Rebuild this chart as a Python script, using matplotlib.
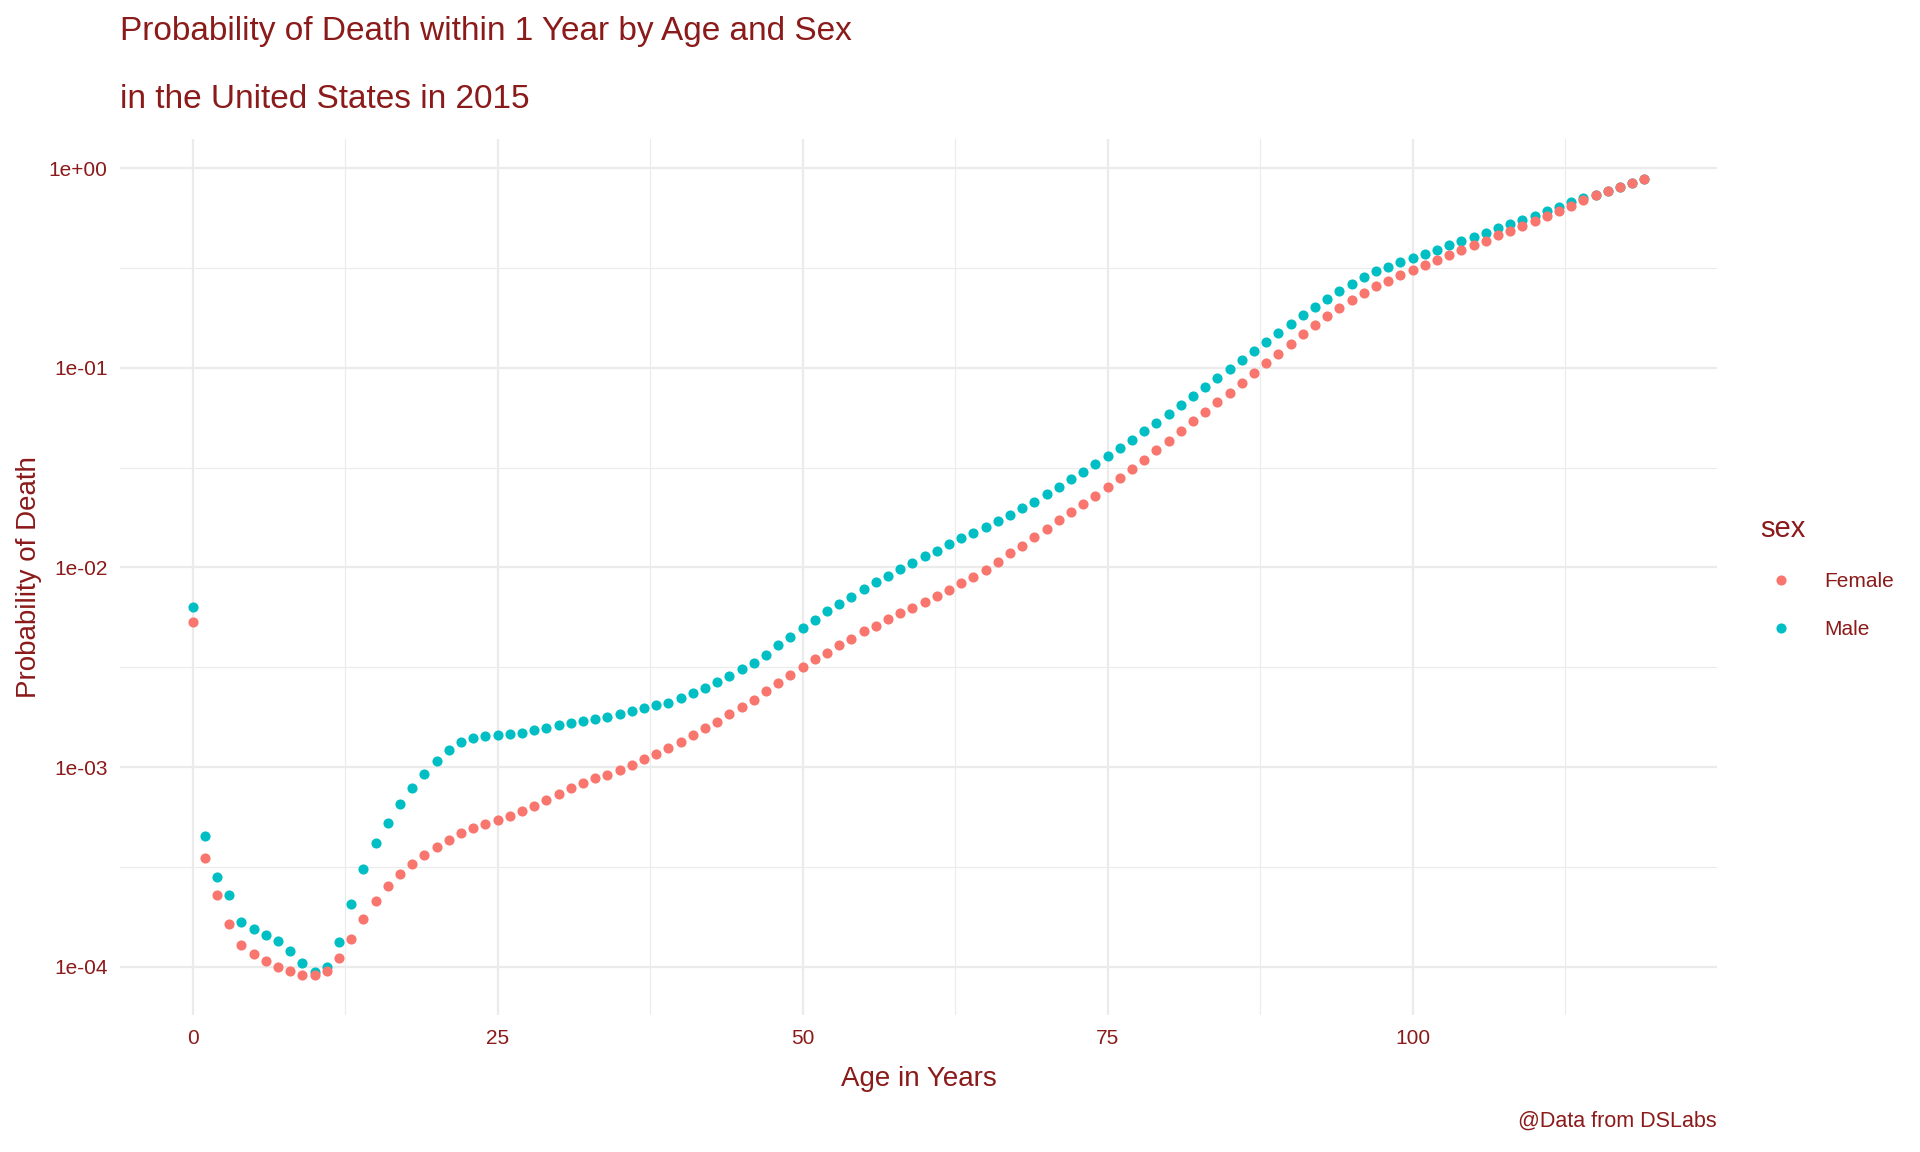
import matplotlib
matplotlib.use('Agg')
import matplotlib.pyplot as plt
from matplotlib.ticker import FixedLocator, FuncFormatter, NullFormatter
from matplotlib.lines import Line2D

FONT = ['Liberation Sans Narrow', 'Liberation Sans', 'DejaVu Sans']
TXT = '#8B1A1A'
GRID = '#EBEBEB'
C_FEMALE = '#F8766D'
C_MALE = '#00BFC4'

ages = list(range(120))

female = [5.31e-3, 3.51e-4, 2.29e-4, 1.635e-4, 1.284e-4, 1.157e-4, 1.068e-4, 1.004e-4, 9.52e-5, 9.09e-5,
          9.09e-5, 9.55e-5, 1.109e-4, 1.375e-4, 1.732e-4, 2.138e-4, 2.54e-4, 2.917e-4, 3.26e-4, 3.63e-4,
          3.98e-4, 4.32e-4, 4.68e-4, 4.95e-4, 5.17e-4, 5.43e-4, 5.69e-4, 6.05e-4, 6.38e-4, 6.87e-4,
          7.30e-4, 7.83e-4, 8.32e-4, 8.81e-4, 9.19e-4, 9.66e-4, 1.023e-3, 1.093e-3, 1.161e-3, 1.245e-3,
          1.334e-3, 1.445e-3, 1.567e-3, 1.692e-3, 1.84e-3, 1.995e-3, 2.18e-3, 2.399e-3, 2.63e-3, 2.884e-3,
          3.162e-3, 3.467e-3, 3.746e-3, 4.07e-3, 4.40e-3, 4.786e-3, 5.11e-3, 5.54e-3, 5.89e-3, 6.24e-3,
          6.68e-3, 7.16e-3, 7.70e-3, 8.37e-3, 8.96e-3, 9.72e-3, 1.061e-2, 1.175e-2, 1.283e-2, 1.413e-2,
          1.566e-2, 1.738e-2, 1.905e-2, 2.089e-2, 2.29e-2, 2.53e-2, 2.805e-2, 3.11e-2, 3.464e-2, 3.857e-2,
          4.31e-2, 4.835e-2, 5.425e-2, 6.02e-2, 6.75e-2, 7.49e-2, 8.40e-2, 9.42e-2, 0.1057, 0.1172,
          0.1315, 0.1474, 0.1633, 0.1815, 0.1988, 0.2178, 0.2360, 0.2560, 0.2707, 0.2907,
          0.3080, 0.3265, 0.3459, 0.3652, 0.3878, 0.4098, 0.4335, 0.4600, 0.4855, 0.5146,
          0.5454, 0.5780, 0.6104, 0.6471, 0.6887, 0.7301, 0.7705, 0.8078, 0.8460, 0.8831]

male = [6.31e-3, 4.50e-4, 2.81e-4, 2.29e-4, 1.68e-4, 1.543e-4, 1.44e-4, 1.349e-4, 1.202e-4, 1.047e-4,
        9.38e-5, 9.93e-5, 1.334e-4, 2.065e-4, 3.08e-4, 4.155e-4, 5.23e-4, 6.51e-4, 7.83e-4, 9.23e-4,
        1.068e-3, 1.216e-3, 1.334e-3, 1.396e-3, 1.429e-3, 1.445e-3, 1.462e-3, 1.491e-3, 1.531e-3, 1.567e-3,
        1.622e-3, 1.66e-3, 1.698e-3, 1.738e-3, 1.778e-3, 1.84e-3, 1.905e-3, 1.972e-3, 2.042e-3, 2.106e-3,
        2.213e-3, 2.344e-3, 2.483e-3, 2.661e-3, 2.851e-3, 3.09e-3, 3.338e-3, 3.66e-3, 4.07e-3, 4.467e-3,
        4.955e-3, 5.476e-3, 6.026e-3, 6.53e-3, 7.08e-3, 7.76e-3, 8.41e-3, 9.02e-3, 9.77e-3, 1.047e-2,
        1.135e-2, 1.216e-2, 1.308e-2, 1.404e-2, 1.488e-2, 1.594e-2, 1.708e-2, 1.84e-2, 1.995e-2, 2.138e-2,
        2.344e-2, 2.54e-2, 2.786e-2, 3.02e-2, 3.31e-2, 3.63e-2, 3.98e-2, 4.36e-2, 4.82e-2, 5.30e-2,
        5.88e-2, 6.50e-2, 7.21e-2, 7.99e-2, 8.90e-2, 9.87e-2, 0.1094, 0.1214, 0.1346, 0.1493,
        0.1656, 0.1837, 0.2019, 0.2210, 0.2415, 0.2620, 0.2840, 0.3046, 0.3189, 0.3373,
        0.3537, 0.3694, 0.3892, 0.4108, 0.4318, 0.4522, 0.4737, 0.5011, 0.5246, 0.5516,
        0.5780, 0.6104, 0.6395, 0.6755, 0.7105, 0.7301, 0.7705, 0.8078, 0.8460, 0.8831]

x_major = [0, 25, 50, 75, 100]
x_minor = [12.5, 37.5, 62.5, 87.5, 112.5]
y_major = [1e-4, 1e-3, 1e-2, 1e-1, 1e0]
y_minor = [10 ** -3.5, 10 ** -2.5, 10 ** -1.5, 10 ** -0.5]

MS = 7.3

fig = plt.figure(figsize=(19.2, 11.52), dpi=100)
ax = fig.add_axes([120 / 1920, 1 - 1015 / 1152, 1597 / 1920, 876 / 1152])

# male first, female drawn on top (as in the original)
ax.plot(ages, male, 'o', ms=MS, mew=0, color=C_MALE, zorder=3)
ax.plot(ages, female, 'o', ms=MS, mew=0, color=C_FEMALE, zorder=4)

ax.set_yscale('log')
ax.set_xlim(-5.95, 124.95)
ax.set_ylim(10 ** -4.2409, 10 ** 0.1454)

ax.xaxis.set_major_locator(FixedLocator(x_major))
ax.xaxis.set_minor_locator(FixedLocator(x_minor))
ax.yaxis.set_major_locator(FixedLocator(y_major))
ax.yaxis.set_minor_locator(FixedLocator(y_minor))
ax.yaxis.set_major_formatter(FuncFormatter(lambda v, p: f'{v:.0e}'))
ax.yaxis.set_minor_formatter(NullFormatter())
ax.xaxis.set_minor_formatter(NullFormatter())

ax.grid(which='major', color=GRID, lw=1.6)
ax.grid(which='minor', color=GRID, lw=0.8)
ax.set_axisbelow(True)
for s in ax.spines.values():
    s.set_visible(False)
ax.tick_params(which='both', length=0, colors=TXT, labelsize=15)
ax.tick_params(axis='x', pad=10)
ax.tick_params(axis='y', pad=9)
for lab in ax.get_xticklabels() + ax.get_yticklabels():
    lab.set_family(FONT)

ax.set_xlabel('Age in Years', fontsize=20, color=TXT, family=FONT, labelpad=13)
ax.set_ylabel('Probability of Death', fontsize=20, color=TXT, family=FONT, labelpad=5)

fig.text(120 / 1920, 1 - 40 / 1152, 'Probability of Death within 1 Year by Age and Sex',
         fontsize=24, color=TXT, family=FONT, ha='left', va='baseline')
fig.text(120 / 1920, 1 - 108 / 1152, 'in the United States in 2015',
         fontsize=24, color=TXT, family=FONT, ha='left', va='baseline')
fig.text(1717 / 1920, 1 - 1121 / 1152, '@Data from DSLabs',
         fontsize=15.5, color=TXT, family=FONT, ha='right', va='center')

handles = [Line2D([], [], ls='', marker='o', ms=MS, mew=0, color=C_FEMALE),
           Line2D([], [], ls='', marker='o', ms=MS, mew=0, color=C_MALE)]
leg = fig.legend(handles, ['Female', 'Male'], title='sex', loc='upper left',
                 bbox_to_anchor=(1741 / 1920, 1 - 496 / 1152), frameon=False,
                 prop={'family': FONT, 'size': 15}, title_fontproperties={'family': FONT, 'size': 21},
                 labelspacing=1.4, handletextpad=1.1, handlelength=2.0, alignment='left')
for t in leg.get_texts():
    t.set_color(TXT)
leg.get_title().set_color(TXT)

fig.savefig('out.png', dpi=100, facecolor='white')
